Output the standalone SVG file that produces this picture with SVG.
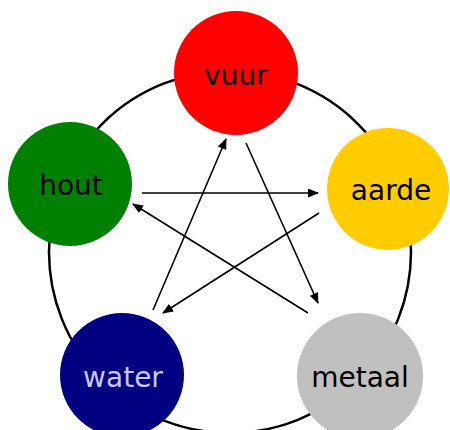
<svg xmlns="http://www.w3.org/2000/svg" width="450" height="430" viewBox="0 0 450 430">
<style>
.lbl{font-family:"DejaVu Sans",sans-serif;font-size:28px;text-anchor:middle;fill:#000}
.arr{stroke:#000;stroke-width:1.6;fill:none;marker-end:url(#ah)}
</style>
<defs>
<marker id="ah" markerWidth="11" markerHeight="9" refX="10" refY="4.5" orient="auto" markerUnits="userSpaceOnUse">
<path d="M0,0 L11,4.5 L0,9 Z" fill="#000"/>
</marker>
</defs>
<rect width="450" height="430" fill="#fff"/>
<circle cx="230" cy="252" r="181" fill="none" stroke="#000" stroke-width="2.5"/>
<g id="connectors">
<line class="arr" x1="142" y1="193" x2="318" y2="193"/>
<line class="arr" x1="319" y1="213" x2="163" y2="313"/>
<line class="arr" x1="153" y1="310" x2="226" y2="139"/>
<line class="arr" x1="246" y1="143" x2="318" y2="303"/>
<line class="arr" x1="308" y1="313" x2="133" y2="204"/>
</g>
<g id="vuur"><circle cx="236" cy="73" r="62" fill="#ff0000"/><text class="lbl" x="236" y="85">vuur</text></g>
<g id="hout"><circle cx="70" cy="184" r="62" fill="#008000"/><text class="lbl" x="71" y="195">hout</text></g>
<g id="aarde"><circle cx="388" cy="189" r="61" fill="#ffcc00"/><text class="lbl" x="391" y="200">aarde</text></g>
<g id="water"><circle cx="122" cy="375" r="62" fill="#000080"/><text class="lbl" x="123" y="387" style="fill:#c8c8ff">water</text></g>
<g id="metaal"><circle cx="360" cy="376" r="63" fill="#c0c0c0"/><text class="lbl" x="360" y="387">metaal</text></g>
</svg>
